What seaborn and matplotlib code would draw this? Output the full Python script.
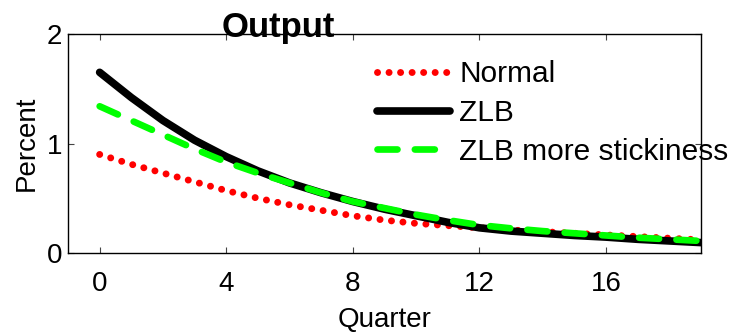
import numpy as np
import pandas as pd
import matplotlib
matplotlib.use("Agg")
import matplotlib.pyplot as plt
import seaborn as sns

quarters = list(range(20))
normal = [0.90, 0.81, 0.73, 0.65, 0.57, 0.50, 0.44, 0.39, 0.34, 0.30,
          0.27, 0.25, 0.23, 0.21, 0.195, 0.18, 0.165, 0.15, 0.135, 0.12]
zlb = [1.65, 1.42, 1.21, 1.03, 0.88, 0.75, 0.64, 0.55, 0.47, 0.40,
       0.34, 0.28, 0.23, 0.20, 0.18, 0.16, 0.145, 0.125, 0.11, 0.095]
zlb_sticky = [1.34, 1.21, 1.08, 0.95, 0.83, 0.73, 0.64, 0.55, 0.47, 0.41,
              0.35, 0.30, 0.255, 0.225, 0.20, 0.18, 0.16, 0.14, 0.125, 0.11]
labels = ["Normal", "ZLB", "ZLB more stickiness"]

sns.set_style("ticks")
plt.rcParams['font.family'] = ['Liberation Sans', 'DejaVu Sans']
plt.rcParams['text.color'] = 'black'
plt.rcParams['axes.labelcolor'] = 'black'
plt.rcParams['xtick.labelcolor'] = 'black'
plt.rcParams['ytick.labelcolor'] = 'black'

fig = plt.figure(figsize=(7.31, 3.32), dpi=100)
ax = fig.add_axes([68 / 731, 1 - 253 / 332, 633 / 731, 219 / 332])

df = pd.DataFrame({"Quarter": quarters, "Normal": normal, "ZLB": zlb,
                   "ZLB more stickiness": zlb_sticky})

sns.lineplot(data=df, x="Quarter", y="Normal", ax=ax, color="#ff0000", lw=5,
             label=labels[0])
ax.lines[-1].set_dashes((0.01, 1.65))
ax.lines[-1].set_dash_capstyle("round")
sns.lineplot(data=df, x="Quarter", y="ZLB", ax=ax, color="black", lw=5.5,
             label=labels[1])
ax.lines[-1].set_solid_capstyle("round")
sns.lineplot(data=df, x="Quarter", y="ZLB more stickiness", ax=ax,
             color="#00ff00", lw=4.8, label=labels[2])
ax.lines[-1].set_dashes((3.0, 2.6))
ax.lines[-1].set_dash_capstyle("round")

ax.set_xlim(-1, 19)
ax.set_ylim(0, 2)
ax.set_xticks([0, 4, 8, 12, 16])
ax.set_yticks([0, 1, 2])
ax.tick_params(direction="in", length=4, width=0.8, labelsize=20,
               top=True, right=True, color="#444444")
ax.tick_params(axis="x", pad=13)
ax.tick_params(axis="y", pad=4)
for s in ax.spines.values():
    s.set_linewidth(1.0)
    s.set_color("black")

ax.set_xlabel("Quarter", fontsize=20, labelpad=7)
ax.set_ylabel("Percent", fontsize=20, labelpad=5)
ax.text(0.333, 0.986, "Output", transform=ax.transAxes, ha="center",
        va="baseline", fontsize=25, fontweight="bold")

leg = ax.legend(loc="upper left", bbox_to_anchor=(0.488, 0.88), frameon=False,
                fontsize=21.5, handlelength=2.45, handletextpad=0.3,
                labelspacing=0.36, borderpad=0, borderaxespad=0)

fig.savefig("out.png", dpi=100)
